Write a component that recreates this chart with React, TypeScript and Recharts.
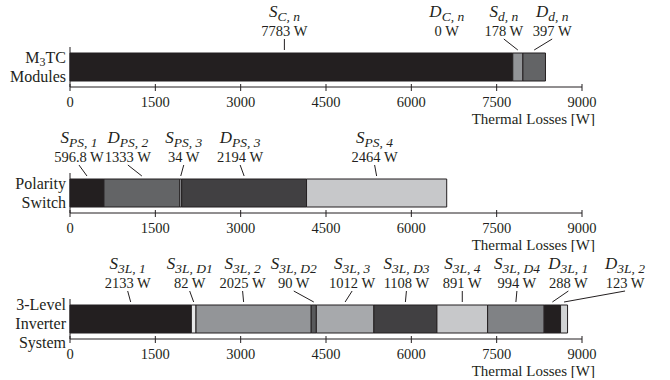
import { BarChart, Bar, XAxis, YAxis } from "recharts";

const TICKS = [0, 1500, 3000, 4500, 6000, 7500, 9000];
const INK = "#231f20";
const FONT = "'Liberation Serif', 'Times New Roman', serif";

// M3TC modules
const modSym = ["S", "D", "S", "D"];
const modSub = ["C, n", "C, n", "d, n", "d, n"];
const modLoss = [7783, 0, 178, 397];
const modFill = ["#231f20", "#ffffff", "#939598", "#636466"];

// polarity switch
const psSym = ["S", "D", "S", "D", "S"];
const psSub = ["PS, 1", "PS, 2", "PS, 3", "PS, 3", "PS, 4"];
const psLoss = [596.8, 1333, 34, 2194, 2464];
const psFill = ["#231f20", "#636466", "#a7a9ac", "#414042", "#c7c8ca"];

// 3-level inverter
const invSym = ["S", "S", "S", "S", "S", "S", "S", "S", "D", "D"];
const invSub = ["3L, 1", "3L, D1", "3L, 2", "3L, D2", "3L, 3", "3L, D3", "3L, 4", "3L, D4", "3L, 1", "3L, 2"];
const invLoss = [2133, 82, 2025, 90, 1012, 1108, 891, 994, 288, 123];
const invFill = ["#231f20", "#e6e7e8", "#939598", "#58595b", "#a7a9ac", "#414042", "#c7c8ca", "#808285", "#231f20", "#d1d3d4"];

// label placement (px shift of the text / leader tip from segment centre)
const modNudge = [-7, -66, -14, 18];
const modTip = [-7, 0, 0, 0];
const psNudge = [-8, -14, 3, -4, -2];
const psTip = [0, 0, 0, 0, 0];
const invNudge = [-3, -4, -11, -20, 7, 1, 0, 1, 16, 61];
const invTip = [0, 0, -10, 0, 0, 0, 0, 0, 0, 0];

const LabelText = ({ x, y, sym, sub, loss }: any) => (
  <g fontFamily={FONT} fill={INK}>
    <text x={x} y={y - 36} textAnchor="middle" fontStyle="italic" fontSize={17} fontFamily={FONT}>
      {sym}
      <tspan fontSize={13.5} dy={4}>{sub}</tspan>
    </text>
    <text x={x} y={y - 17} textAnchor="middle" fontSize={14.5} fontFamily={FONT}>{`${loss} W`}</text>
  </g>
);

const SegLabel = (p: any) => {
  const vb = p.viewBox ?? p;
  const x = Number(vb.x);
  const y = Number(vb.y);
  const w = Number(vb.width) || 0;
  const mid = x + w / 2;
  const tx = mid + p.nudge;
  const tip = mid + p.tipShift;
  return (
    <g>
      <LabelText x={tx} y={y} sym={p.sym} sub={p.sub} loss={p.loss} />
      {p.loss > 0 && <line x1={tx} y1={y - 14} x2={tip} y2={y - 3} stroke={INK} strokeWidth={1} />}
      {p.next && <LabelText x={x + w + p.next.nudge} y={y} sym={p.next.sym} sub={p.next.sub} loss={p.next.loss} />}
    </g>
  );
};

const CatTick = (p: any) => {
  const n = p.lines.length;
  const y0 = p.y - ((n - 1) * 19) / 2 + p.shift + 5.5;
  return (
    <g fontFamily={FONT} fill={INK} fontSize={16}>
      {p.lines.map((l: any, i: number) => (
        <text key={i} x={p.x} y={y0 + i * 19} textAnchor="end" fontFamily={FONT}>{l}</text>
      ))}
    </g>
  );
};

const XTick = (p: any) => (
  <g>
    <line x1={p.x} x2={p.x} y1={p.y - 3} y2={p.y + 4} stroke={INK} strokeWidth={1} />
    <text x={p.x} y={p.y + 20} textAnchor="middle" fontSize={14.5} fontFamily={FONT} fill={INK}>
      {p.payload.value}
    </text>
  </g>
);

const AxisTitle = (p: any) => {
  const vb = p.viewBox;
  return (
    <text x={vb.x + vb.width + 13} y={vb.y + 37} textAnchor="end" fontSize={15} fontFamily={FONT} fill={INK}>
      Thermal Losses [W]
    </text>
  );
};

interface PanelProps {
  cat: string;
  lines: any[];
  shift: number;
  syms: string[];
  subs: string[];
  losses: number[];
  fills: string[];
  nudge: number[];
  tips: number[];
}

const Panel = ({ cat, lines, shift, syms, subs, losses, fills, nudge, tips }: PanelProps) => {
  const row: { [key: string]: string | number } = { cat };
  losses.forEach((v, i) => {
    row[`s${i}`] = v;
  });
  return (
    <BarChart
      width={670}
      height={126}
      data={[row]}
      layout="vertical"
      margin={{ top: 47, right: 88, bottom: 4, left: 0 }}
      barSize={28}
    >
      <XAxis
        type="number"
        domain={[0, 9000]}
        ticks={TICKS}
        height={35}
        tickSize={0}
        tickMargin={0}
        tickLine={false}
        axisLine={{ stroke: INK, strokeWidth: 1 }}
        tick={(t: any) => <XTick {...t} />}
        label={(l: any) => <AxisTitle {...l} />}
      />
      <YAxis
        type="category"
        dataKey="cat"
        width={70}
        tickSize={0}
        tickMargin={4}
        tickLine={false}
        axisLine={{ stroke: INK, strokeWidth: 1 }}
        tick={(t: any) => <CatTick {...t} lines={lines} shift={shift} />}
      />
      {losses.map((v, i) => {
        if (v === 0) return null;
        const j = i + 1;
        // a zero-loss segment has no rectangle, so its text rides on the segment before it
        const next =
          j < losses.length && losses[j] === 0
            ? { sym: syms[j], sub: subs[j], loss: losses[j], nudge: nudge[j] }
            : null;
        return (
          <Bar
            key={i}
            dataKey={`s${i}`}
            stackId="a"
            fill={fills[i]}
            stroke={INK}
            strokeWidth={1}
            isAnimationActive={false}
            label={(l: any) => (
              <SegLabel {...l} sym={syms[i]} sub={subs[i]} loss={v} nudge={nudge[i]} tipShift={tips[i]} next={next} />
            )}
          />
        );
      })}
    </BarChart>
  );
};

export default function App() {
  const m3tc = (
    <>
      M<tspan fontSize={12} dy={3}>3</tspan>
      <tspan dy={-3}>TC</tspan>
    </>
  );
  return (
    <div style={{ position: "absolute", left: 0, top: 0, width: 670, height: 380, background: "#fff" }}>
      <Panel
        cat="M3TC Modules"
        lines={[m3tc, "Modules"]}
        shift={0}
        syms={modSym}
        subs={modSub}
        losses={modLoss}
        fills={modFill}
        nudge={modNudge}
        tips={modTip}
      />
      <Panel
        cat="Polarity Switch"
        lines={["Polarity", "Switch"]}
        shift={0}
        syms={psSym}
        subs={psSub}
        losses={psLoss}
        fills={psFill}
        nudge={psNudge}
        tips={psTip}
      />
      <Panel
        cat="3-Level Inverter System"
        lines={["3-Level", "Inverter", "System"]}
        shift={4.5}
        syms={invSym}
        subs={invSub}
        losses={invLoss}
        fills={invFill}
        nudge={invNudge}
        tips={invTip}
      />
    </div>
  );
}
